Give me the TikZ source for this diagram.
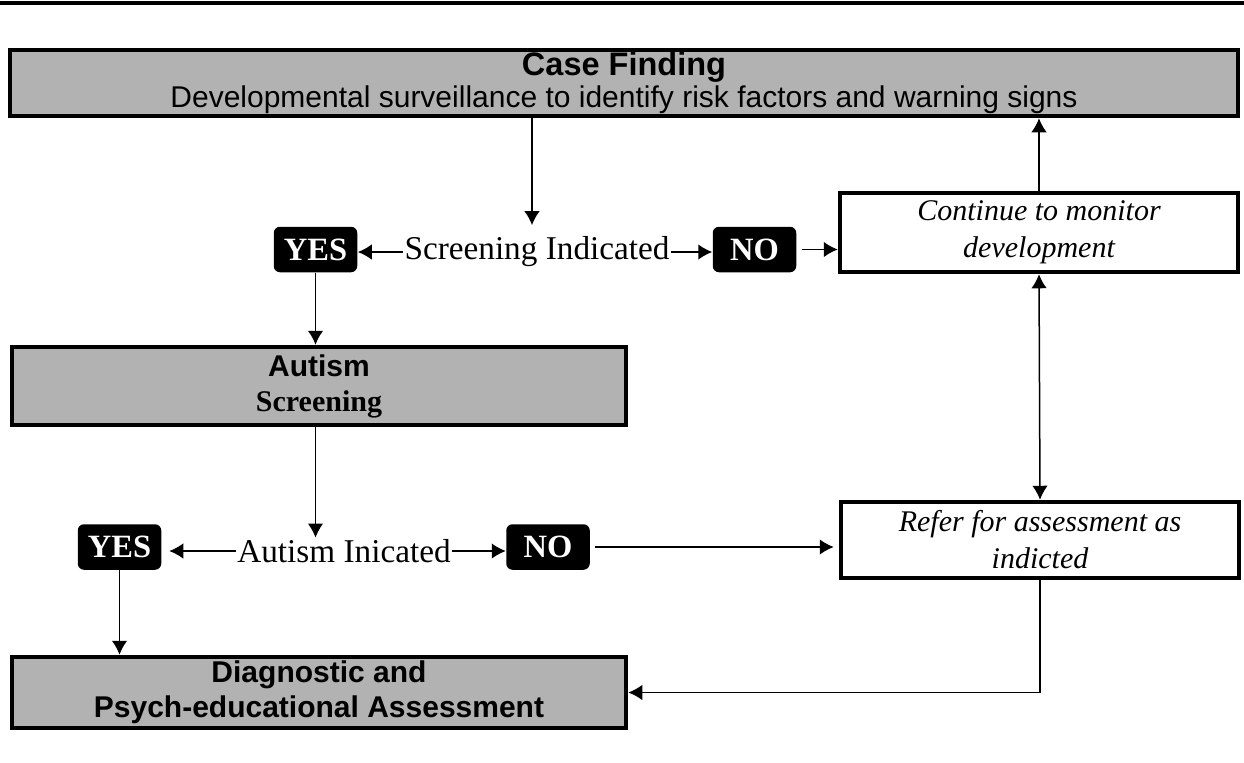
\documentclass[tikz,border=0pt]{standalone}
\usepackage{fontspec}
\setmainfont{Liberation Serif}
\setsansfont{Liberation Sans}
\usepackage{tikz}
\usetikzlibrary{arrows.meta,positioning,calc}
\tikzset{
  greybox/.style={
      draw,
      line width=1.8pt,
      fill=black!30,
      align=center,
      inner sep=0pt,
      font=\sffamily\bfseries\fontsize{12}{14}\selectfont
    },
  whitebox/.style={
      draw,
      line width=1.8pt,
      fill=white,
      align=center,
      inner sep=0pt,
      minimum width=159.2pt,
      font=\itshape\fontsize{12}{14.8}\selectfont
    },
  answer/.style={
      fill=black,
      text=white,
      rounded corners=2.5pt,
      inner sep=0pt,
      minimum width=33.4pt,
      minimum height=18.2pt,
      font=\bfseries\fontsize{13}{15}\selectfont
    },
  question/.style={
      inner sep=0.5pt,
      font=\fontsize{13.3}{15}\selectfont
    },
  arr/.style={
      -{Latex[length=5.6pt,width=6.2pt]},
      line width=0.6pt
    },
  twoarr/.style={
      {Latex[length=5.6pt,width=6.2pt]}-{Latex[length=5.6pt,width=6.2pt]},
      line width=0.6pt
    }
}

\begin{document}
\begin{tikzpicture}[x=0.4pt,y=-0.4pt]
\useasboundingbox (0,0) rectangle (1244,762);
% the rule on top
\draw[line width=1.5pt] (0,3) coordinate (ruleL) -- (1244,3) coordinate (ruleR);

% the shapes
\node[greybox,minimum width=491.2pt,minimum height=26.4pt] at (624,83) (case)
  {{\fontsize{13}{14}\selectfont Case Finding}\\[-1pt]
   \mdseries Developmental surveillance to identify risk factors and warning signs};
\node[answer] at (315.5,249.5) (yesA) {YES};
\node[question] at (537,252) (screen) {Screening Indicated};
\node[answer] at (754.5,249.5) (noA) {NO};
\node[whitebox,minimum height=31.6pt] at (1039,232.5) (monitor)
  {Continue to monitor\\development};
\node[greybox,minimum width=245.6pt,minimum height=31.2pt] at (319,386) (autscr)
  {Autism\\\rmfamily Screening};
\node[answer] at (119.5,547) (yesB) {YES};
\node[question] at (344,551) (autism) {Autism Inicated};
\node[answer] at (548,547) (noB) {NO};
\node[whitebox,minimum height=30.4pt] at (1040,540) (refer)
  {Refer for assessment as\\indicted};
\node[greybox,minimum width=245.6pt,minimum height=28.4pt] at (319,692.5) (diag)
  {Diagnostic and\\Psych-educational Assessment};

%the arrows
\draw[arr] (case.south -| 532,0) -- ([yshift=4pt]screen.north -| 532,0);
\draw[arr] (screen.west) -- (screen.west -| yesA.east);
\draw[arr] (screen.east) -- (screen.east -| noA.west);
\draw[arr] ([xshift=2pt]noA.east) -- (noA.east -| monitor.west);
\draw[arr] (monitor.north) -- (monitor.north |- case.south);
\draw[twoarr] (monitor.south) -- (refer.north);
\draw[arr] (yesA.south) -- (yesA.south |- autscr.north);
\draw[arr] (yesA.south |- autscr.south) -- (yesA.south |- autism.north);
\draw[arr] (autism.west) -- ([xshift=3pt]autism.west -| yesB.east);
\draw[arr] (autism.east) -- (autism.east -| noB.west);
\draw[arr] ([xshift=2pt]noB.east) -- ([xshift=-2pt]noB.east -| refer.west);
\draw[arr] (yesB.south) -- (yesB.south |- diag.north);
\draw[arr] (refer.south) |- (diag.east);
\end{tikzpicture}
\end{document}
